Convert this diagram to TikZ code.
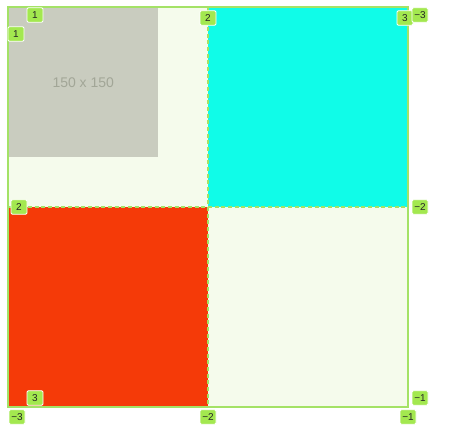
\documentclass[tikz,border=0pt]{standalone}
\usepackage{fontspec}
\setmainfont{Liberation Sans}
\definecolor{gridbg}{HTML}{F5FBEC}
\definecolor{gridline}{HTML}{A4E266}
\definecolor{cyanarea}{HTML}{10FCE8}
\definecolor{redarea}{HTML}{F53A08}
\definecolor{imgarea}{HTML}{C9CCBF}
\definecolor{imgtext}{HTML}{A2A697}
\definecolor{labfill}{HTML}{A3E84F}
\begin{document}
\begin{tikzpicture}[x=0.75pt,y=-0.75pt,
  linelab/.style={draw=white,fill=labfill,rounded corners=1pt,line width=0.6pt,minimum width=12pt,minimum height=11pt,inner sep=1pt,font=\fontsize{7.5}{8}\selectfont,text=black!85},
  trackline/.style={gridline,line width=0.8pt,dashed,dash pattern=on 3pt off 2pt}]
\useasboundingbox (0,0) rectangle (451,446);
% grid container
\fill[gridbg] (8,7) rectangle (408,407);
\fill[cyanarea] (208,7) rectangle (408,207);
\fill[redarea] (8,207) rectangle (208,407);
\node[fill=imgarea,minimum width=112.5pt,minimum height=112.5pt,inner sep=0pt,anchor=north west,text=imgtext,font=\fontsize{10.5}{12}\selectfont] (img) at (8,7) {150 x 150};
\draw[trackline] (208,7) -- (208,407);
\draw[trackline] (8,207) -- (408,207);
\draw[gridline,line width=0.8pt] (8,7) rectangle (408,407);
% line numbers
\node[linelab] (c1) at (35,15) {1};
\node[linelab] (r1) at (16,34) {1};
\node[linelab] (c2) at (208,18) {2};
\node[linelab] (c3) at (405,18) {3};
\node[linelab] (cm3) at (420,15) {\textminus3};
\node[linelab] (r2) at (19,207) {2};
\node[linelab] (rm2) at (420,207) {\textminus2};
\node[linelab] (r3) at (35,398) {3};
\node[linelab] (rm1) at (420,398) {\textminus1};
\node[linelab] (cm3b) at (17,417) {\textminus3};
\node[linelab] (cm2) at (208,417) {\textminus2};
\node[linelab] (cm1) at (408,417) {\textminus1};
\end{tikzpicture}
\end{document}
